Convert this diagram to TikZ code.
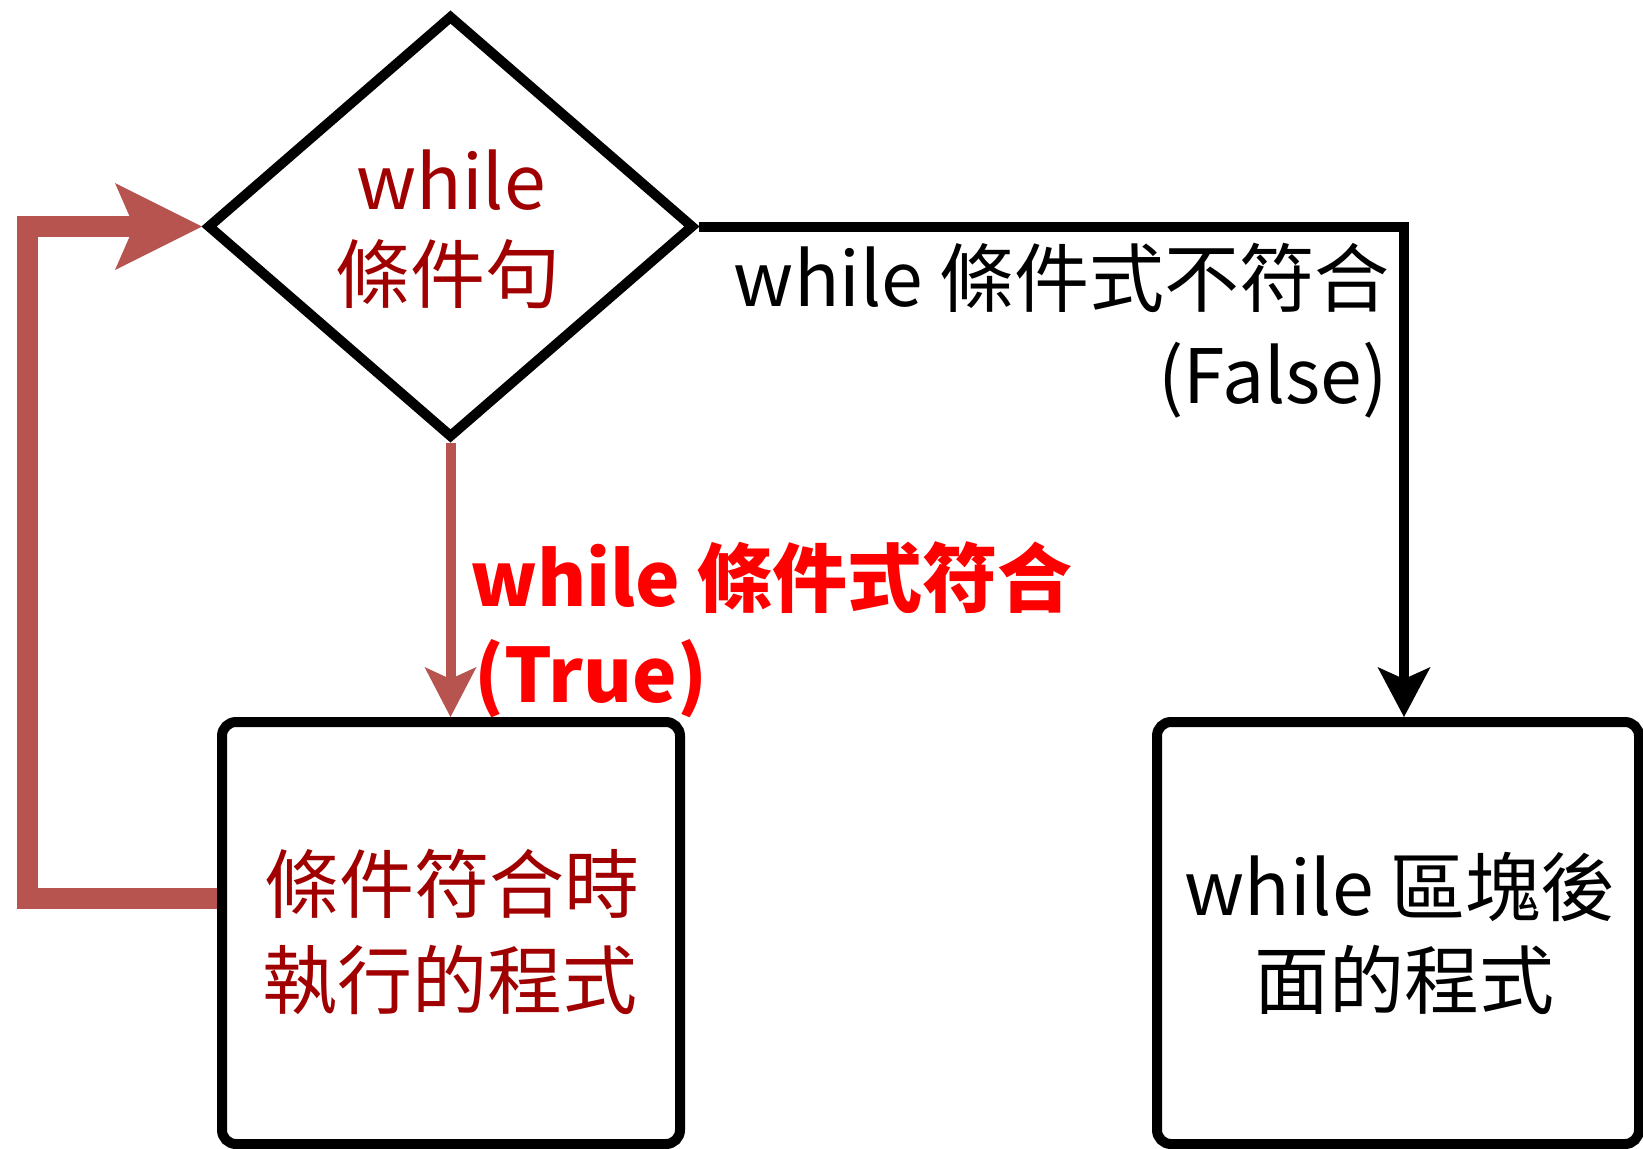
\documentclass[tikz,border=0pt]{standalone}
\usepackage{fontspec}
\setmainfont{Noto Sans CJK TC}
\usetikzlibrary{shapes.geometric,arrows.meta,calc}
\definecolor{loopred}{HTML}{B85450}
\definecolor{txtred}{HTML}{A00000}
\definecolor{lblred}{HTML}{FF0000}
\begin{document}
\begin{tikzpicture}[x=1pt,y=-1pt,
  decision/.style={diamond,draw=black,line width=10pt,minimum width=487pt,minimum height=423pt,inner sep=0pt},
  shapebox/.style={rectangle,draw=black,line width=10pt,rounded corners=14pt,minimum width=#1,minimum height=422pt,inner sep=0pt},
  txt/.style={font=\fontsize{75}{96}\selectfont,inner sep=0pt,anchor=base},
  redtxt/.style={txt,text=txtred},
  lbltxt/.style={txt,anchor=base west,text=lblred,font=\fontsize{75}{96}\selectfont\bfseries},
  falsetxt/.style={txt,anchor=base east},
  loopline/.style={draw=loopred,line width=21pt,-{Stealth[length=87pt,width=87pt,inset=19pt,line width=0pt]}},
  downred/.style={draw=loopred,line width=10pt,-{Stealth[length=50pt,width=52pt,inset=12pt,line width=0pt]}},
  downblack/.style={draw=black,line width=10pt,-{Stealth[length=50pt,width=53pt,inset=12pt,line width=0pt]}}
]
\useasboundingbox (0,0) rectangle (1643,1148);
\fill[white] (0,0) rectangle (1643,1148);

\node[decision] (dia) at (450.5,226.5) {};
\node[shapebox=458pt] (lbox) at (451,933) {};
\node[shapebox=482pt] (rbox) at (1398,933) {};

\node[redtxt] (d1) at (451,209) {while};
\node[redtxt] (d2) at (448,302) {條件句};
\node[redtxt] (l1) at (452,912) {條件符合時};
\node[redtxt] (l2) at (450,1008) {執行的程式};
\node[txt] (r1) at (1400,915) {while 區塊後};
\node[txt] (r2) at (1404,1008) {面的程式};
\node[falsetxt] (f1) at (1390,306) {while 條件式不符合};
\node[falsetxt] (f2) at (1388,403) {(False)};
\node[lbltxt] (t1) at (470,606) {while 條件式符合};
\node[lbltxt] (t2) at (474,702) {(True)};

\coordinate (lp) at (0,898);
\coordinate (lx) at (27.5,0);
\coordinate (ax) at (1404,0);
\draw[loopline] (lbox.west |- lp) -- (lx |- lp) -- (lx |- dia.west) -- (dia.west);
\draw[downred] (dia.south) -- (dia.south |- lbox.north);
\draw[downblack] (dia.east) -- (ax |- dia.east) -- (ax |- rbox.north);
\end{tikzpicture}
\end{document}
